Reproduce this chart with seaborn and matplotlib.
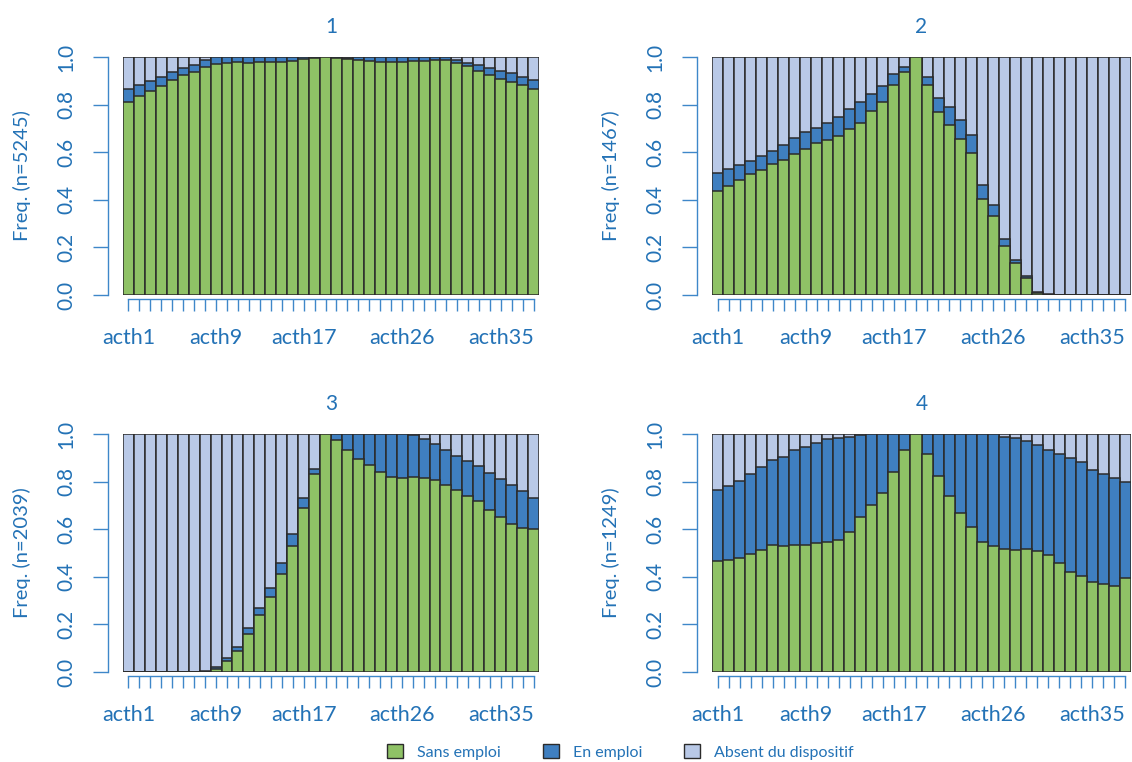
import numpy as np
import matplotlib
matplotlib.use("Agg")
import matplotlib.pyplot as plt
import seaborn as sns
from matplotlib.patches import Patch

# ---- data -------------------------------------------------------------
periods = [f"acth{i}" for i in range(1, 39)]
shown_labels = ["acth1", "acth9", "acth17", "acth26", "acth35"]
states = ["Sans emploi", "En emploi", "Absent du dispositif"]
state_colors = ["#8FC266", "#3F7FC0", "#B9C9E7"]

cluster_titles = ["1", "2", "3", "4"]
cluster_sizes = [5245, 1467, 2039, 1249]

# share of each state per month; "Absent du dispositif" is the remainder
sans_emploi_1 = [0.812, 0.835, 0.857, 0.880, 0.902, 0.923, 0.937, 0.958, 0.970, 0.976,
                 0.978, 0.974, 0.977, 0.977, 0.980, 0.983, 0.990, 0.997, 0.998, 0.994,
                 0.991, 0.987, 0.983, 0.979, 0.978, 0.978, 0.982, 0.983, 0.986, 0.986,
                 0.975, 0.961, 0.941, 0.926, 0.907, 0.896, 0.884, 0.867]
en_emploi_1 = [0.052, 0.048, 0.042, 0.036, 0.033, 0.029, 0.030, 0.029, 0.028, 0.023,
               0.022, 0.026, 0.023, 0.023, 0.020, 0.017, 0.010, 0.003, 0.002, 0.004,
               0.006, 0.012, 0.017, 0.021, 0.022, 0.022, 0.018, 0.017, 0.014, 0.014,
               0.014, 0.015, 0.025, 0.027, 0.035, 0.035, 0.034, 0.035]

sans_emploi_2 = [0.436, 0.459, 0.482, 0.510, 0.524, 0.550, 0.566, 0.592, 0.613, 0.637,
                 0.652, 0.670, 0.696, 0.723, 0.772, 0.810, 0.881, 0.935, 1.000, 0.883,
                 0.771, 0.713, 0.657, 0.597, 0.403, 0.333, 0.204, 0.133, 0.070, 0.009,
                 0.002, 0.0, 0.0, 0.0, 0.0, 0.0, 0.0, 0.0]
en_emploi_2 = [0.076, 0.072, 0.065, 0.053, 0.058, 0.055, 0.066, 0.067, 0.070, 0.066,
               0.071, 0.076, 0.084, 0.086, 0.072, 0.068, 0.046, 0.025, 0.000, 0.032,
               0.058, 0.077, 0.080, 0.077, 0.059, 0.046, 0.033, 0.016, 0.009, 0.004,
               0.001, 0.0, 0.0, 0.0, 0.0, 0.0, 0.0, 0.0]

sans_emploi_3 = [0.0, 0.0, 0.0, 0.0, 0.0, 0.0, 0.0, 0.002, 0.014, 0.045,
                 0.087, 0.161, 0.238, 0.314, 0.410, 0.529, 0.688, 0.831, 1.000, 0.973,
                 0.933, 0.895, 0.870, 0.842, 0.821, 0.814, 0.818, 0.815, 0.805, 0.786,
                 0.765, 0.741, 0.717, 0.679, 0.653, 0.623, 0.605, 0.599]
en_emploi_3 = [0.0, 0.0, 0.0, 0.0, 0.0, 0.0, 0.0, 0.002, 0.007, 0.012,
               0.018, 0.024, 0.032, 0.038, 0.048, 0.049, 0.043, 0.023, 0.000, 0.027,
               0.067, 0.105, 0.130, 0.158, 0.179, 0.186, 0.176, 0.165, 0.152, 0.148,
               0.141, 0.144, 0.147, 0.156, 0.158, 0.161, 0.154, 0.132]

sans_emploi_4 = [0.465, 0.469, 0.479, 0.496, 0.514, 0.534, 0.528, 0.534, 0.534, 0.542,
                 0.546, 0.556, 0.590, 0.650, 0.702, 0.754, 0.842, 0.933, 1.000, 0.916,
                 0.822, 0.740, 0.667, 0.609, 0.548, 0.529, 0.515, 0.511, 0.518, 0.507,
                 0.490, 0.458, 0.422, 0.403, 0.378, 0.371, 0.361, 0.396]
en_emploi_4 = [0.298, 0.311, 0.324, 0.334, 0.346, 0.355, 0.375, 0.399, 0.411, 0.420,
               0.432, 0.426, 0.399, 0.344, 0.298, 0.246, 0.158, 0.067, 0.000, 0.084,
               0.178, 0.260, 0.333, 0.391, 0.451, 0.469, 0.471, 0.471, 0.451, 0.445,
               0.443, 0.459, 0.476, 0.478, 0.472, 0.462, 0.454, 0.402]

sans_emploi = [sans_emploi_1, sans_emploi_2, sans_emploi_3, sans_emploi_4]
en_emploi = [en_emploi_1, en_emploi_2, en_emploi_3, en_emploi_4]

# ---- style -----------------------------------------------------------
sns.set_style("white")
plt.rcParams["font.family"] = ["Lato", "DejaVu Sans"]
TEXT = "#2372B6"
AXIS = "#3E87C9"
EDGE = "#2B2B2B"

W, H = 1132, 762
fig = plt.figure(figsize=(W / 100, H / 100), dpi=100)

# panel frames in pixels: (left, right, top, bottom) of the bar area
frames = [(123, 539, 57, 295), (712, 1131, 57, 295),
          (123, 539, 434, 672), (712, 1131, 434, 672)]


def draw_panel(ax, sans, en, title, n):
    sans = np.asarray(sans)
    en = np.asarray(en)
    absent = np.clip(1.0 - sans - en, 0, None)
    layers = [sans + en + absent, sans + en, sans]
    for heights, col in zip(layers, state_colors[::-1]):
        sns.barplot(x=periods, y=heights, order=periods, color=col, saturation=1,
                    width=1, edgecolor=EDGE, linewidth=1.1, ax=ax)

    ax.set_xlim(-0.5, len(periods) - 0.5)
    ax.set_ylim(0, 1)
    for side in ("top", "right"):
        ax.spines[side].set_visible(False)
    ax.spines["left"].set_position(("outward", 11))
    ax.spines["left"].set_bounds(0, 1)
    ax.spines["bottom"].set_position(("outward", 3))
    ax.spines["bottom"].set_bounds(0, len(periods) - 1)
    for side in ("left", "bottom"):
        ax.spines[side].set_color(AXIS)
        ax.spines[side].set_linewidth(1.0)

    ax.set_xticks(range(len(periods)))
    ax.set_xticklabels([p if p in shown_labels else "" for p in periods])
    ax.tick_params(axis="x", length=8.5, width=1.0, color=AXIS, labelcolor=TEXT,
                   labelsize=15.5, pad=12, bottom=True)

    yt = [0.0, 0.2, 0.4, 0.6, 0.8, 1.0]
    ax.set_yticks(yt)
    ax.set_yticklabels([f"{v:.1f}" for v in yt], rotation=90, va="center")
    ax.tick_params(axis="y", length=10.5, width=1.0, color=AXIS, labelcolor=TEXT,
                   labelsize=15, pad=12, left=True)

    ax.set_xlabel("")
    ax.set_ylabel(f"Freq. (n={n})", color=TEXT, fontsize=14.5)
    ax.set_title(title, color=TEXT, fontsize=15, pad=17)


for k, (l, r, t, b) in enumerate(frames):
    ax = fig.add_axes([l / W, 1 - b / H, (r - l) / W, (b - t) / H])
    draw_panel(ax, sans_emploi[k], en_emploi[k], cluster_titles[k], cluster_sizes[k])
    ax.yaxis.set_label_coords((31 + (0 if l < 600 else 589) - l) / (r - l), 0.5)

handles = [Patch(facecolor=c, edgecolor=EDGE, linewidth=1.0) for c in state_colors]
fig.legend(handles, states, loc="center", bbox_to_anchor=(0.548, 1 - 752 / H),
           ncol=3, frameon=False, fontsize=11.5, labelcolor=TEXT,
           handlelength=1.0, handleheight=1.0, handletextpad=0.9, columnspacing=2.6)

fig.savefig("out.png", dpi=100, facecolor="white")
